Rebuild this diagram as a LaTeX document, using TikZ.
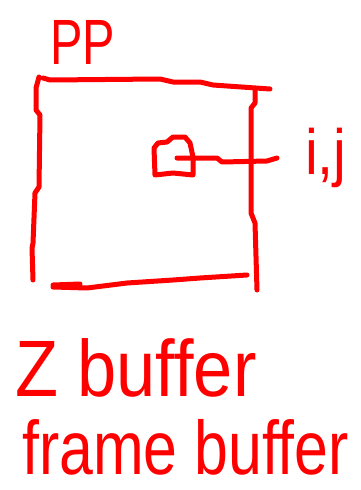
\documentclass[tikz,border=0pt]{standalone}
\usepackage{fontspec}
\setmainfont{Liberation Sans}
\definecolor{pen}{RGB}{255,0,0}
\begin{document}
\begin{tikzpicture}[x=1pt,y=-1pt,
  stroke/.style={draw=pen,line width=5pt,line cap=round,line join=round},
  scrawl/.style={text=pen,inner sep=0pt,anchor=base west}]
\useasboundingbox (0,0) rectangle (360,490);
% frame PP
\draw[stroke] (39,77) -- (36,88) -- (36,110) -- (40,115) -- (39,187) -- (35,193) -- (33,243) -- (32,248) -- (33,280);
\draw[stroke] (43,78) -- (50,80) -- (160,79) -- (173,82) -- (200,82) -- (213,85) -- (270,89);
\draw[stroke] (255,90) -- (255,103) -- (251,108) -- (251,213) -- (255,223) -- (257,290);
\draw[stroke] (53,285) -- (80,284) -- (53,287) -- (87,288) -- (127,283) -- (173,280) -- (200,278) -- (247,275);
% pixel
\draw[stroke] (155,175) -- (154,148) -- (158,143) -- (167,142) -- (173,137) -- (185,137) -- (190,143) -- (193,157) -- (193,175) -- (173,173) -- cycle;
\coordinate (px) at (177,158);
\coordinate (lb) at (277,158);
\draw[stroke] (px) -- (217,158) -- (222,162) -- (267,161) -- (lb);
% texts
\node[scrawl,font=\fontsize{64}{64}\selectfont,xscale=0.76] (pp) at (50,64) {PP};
\node[scrawl,font=\fontsize{64}{64}\selectfont,xscale=0.9] (ij) at (305,174) {i,j};
\node[scrawl,font=\fontsize{80}{80}\selectfont,xscale=0.88] (zb) at (15,396) {Z buffer};
\node[scrawl,font=\fontsize{76}{76}\selectfont,xscale=0.8] (fb) at (22,474) {frame buffer};
\end{tikzpicture}
\end{document}
